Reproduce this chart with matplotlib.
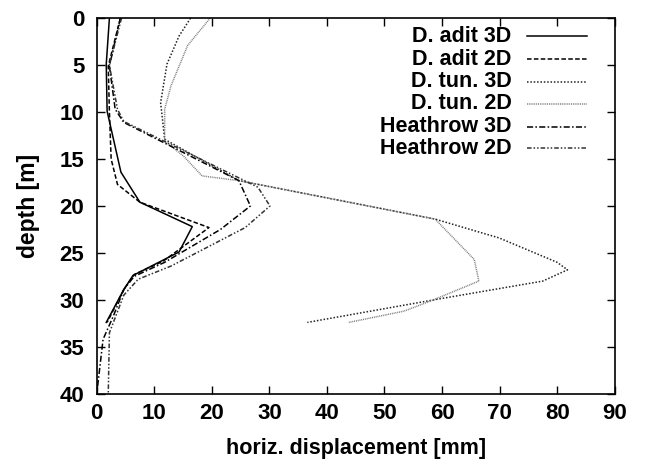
import matplotlib
matplotlib.use('Agg')
import matplotlib.pyplot as plt

plt.rcParams['font.family'] = ['Liberation Sans', 'DejaVu Sans']
plt.rcParams['font.weight'] = 'bold'

# horizontal displacement [mm] vs depth [m]
adit3d_x = [2.2, 1.65, 1.8, 4.2, 7.5, 16.6, 14.3, 6.3, 4.7, 1.65]
adit3d_d = [0, 4.9, 9.9, 16.4, 19.6, 22.2, 24.9, 27.4, 28.9, 32.4]

adit2d_x = [4.1, 2.0, 2.2, 2.5, 3.6, 7.5, 19.5, 11.5, 6.5, 4.7, 1.8]
adit2d_d = [0, 5.1, 10.0, 15.0, 17.7, 19.6, 22.3, 25.9, 27.3, 28.9, 32.4]

tun3d_x = [16.3, 14.3, 12.2, 11.1, 11.8, 24.7, 58.8, 69.9, 80.0, 81.8, 77.5, 59.5, 36.6]
tun3d_d = [0, 1.9, 4.9, 9.0, 12.9, 17.3, 21.4, 23.4, 26.0, 26.8, 28.0, 29.9, 32.4]

tun2d_x = [19.7, 15.8, 12.9, 11.8, 11.8, 15.1, 18.3, 24.7, 58.8, 65.6, 66.4, 58.1, 53.4, 43.8]
tun2d_d = [0, 2.9, 7.2, 9.7, 13.1, 14.7, 16.8, 17.3, 21.4, 25.7, 28.0, 30.1, 31.2, 32.4]

heath3d_x = [4.1, 2.2, 3.2, 4.7, 24.7, 26.7, 21.5, 11.8, 6.5, 4.7, 2.9, 1.1, 0.0]
heath3d_d = [0, 5.1, 9.7, 11.1, 17.3, 20.0, 22.5, 26.0, 27.5, 28.9, 31.7, 34.2, 40.0]

heath2d_x = [4.3, 2.2, 3.6, 4.7, 28.0, 30.1, 25.8, 12.9, 7.2, 4.7, 2.2, 2.0]
heath2d_d = [0, 5.0, 9.7, 11.0, 18.0, 20.0, 22.3, 26.4, 27.8, 29.5, 33.5, 40.0]

labels = ['D. adit 3D', 'D. adit 2D', 'D. tun. 3D', 'D. tun. 2D',
          'Heathrow 3D', 'Heathrow 2D']

styles = [
    dict(color='black', linestyle='-'),
    dict(color='black', linestyle=(0, (3, 1.5))),
    dict(color='#222222', linestyle=(0, (1, 1.2))),
    dict(color='#777777', linestyle=(0, (0.6, 0.6))),
    dict(color='black', linestyle=(0, (4, 1.5, 1, 1.5))),
    dict(color='#333333', linestyle=(0, (3, 1.3, 1, 1.3, 1, 1.3))),
]

fig = plt.figure(figsize=(6.45, 4.66), dpi=100)
ax = fig.add_axes([0.150, 0.155, 0.803, 0.806])

series = [(adit3d_x, adit3d_d), (adit2d_x, adit2d_d), (tun3d_x, tun3d_d),
          (tun2d_x, tun2d_d), (heath3d_x, heath3d_d), (heath2d_x, heath2d_d)]

for (xs, ds), st in zip(series, styles):
    ax.plot(xs, ds, linewidth=1.1, **st)

ax.set_xlim(0, 90)
ax.set_ylim(40, 0)
ax.set_xticks(range(0, 91, 10))
ax.set_yticks(range(0, 41, 5))
ax.tick_params(direction='in', length=6, width=1, top=True, right=True,
               labelsize=16)
ax.tick_params(axis='x', pad=7)
ax.tick_params(axis='y', pad=9)
for t in ax.get_xticklabels() + ax.get_yticklabels():
    t.set_fontweight('bold')
for s in ax.spines.values():
    s.set_linewidth(1.2)

ax.set_xlabel('horiz. displacement [mm]', fontsize=15.5, fontweight='bold', labelpad=10)
ax.set_ylabel('depth [m]', fontsize=16.5, fontweight='bold', labelpad=14)

# key drawn gnuplot-style: right-aligned text, sample line to the right
rows = [0.952, 0.891, 0.831, 0.772, 0.711, 0.654]
for lab, st, yy in zip(labels, styles, rows):
    ax.text(0.801, yy, lab, transform=ax.transAxes, ha='right', va='center',
            fontsize=15.5, fontweight='bold')
    ax.plot([0.830, 0.946], [yy, yy], transform=ax.transAxes, linewidth=1.1, **st)

fig.savefig('out.png', dpi=100)
